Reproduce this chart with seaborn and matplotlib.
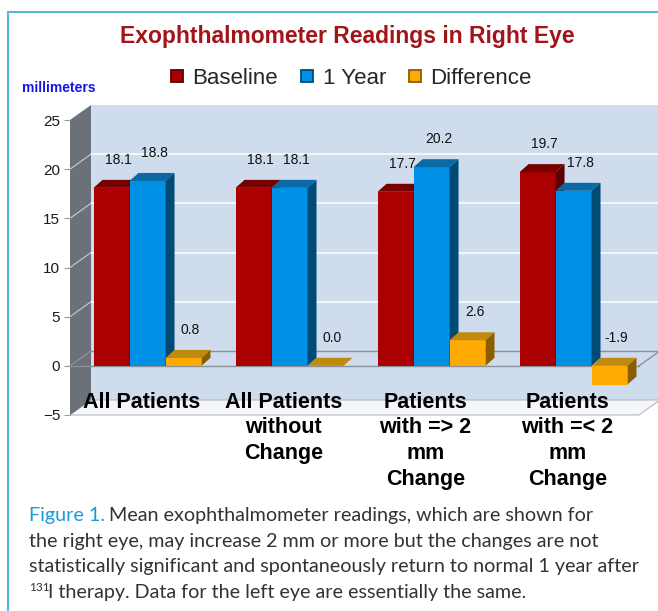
import numpy as np
import pandas as pd
import matplotlib
matplotlib.use("Agg")
import matplotlib.pyplot as plt
from matplotlib.patches import Polygon
from matplotlib.lines import Line2D
from matplotlib.colors import to_hex
import seaborn as sns

sns.set_style("white")
plt.rcParams["font.family"] = ["Liberation Sans", "DejaVu Sans"]

categories = ["All Patients", "All Patients\nwithout\nChange",
              "Patients\nwith => 2\nmm\nChange", "Patients\nwith =< 2\nmm\nChange"]
series = ["Baseline", "1 Year", "Difference"]
baseline = [18.1, 18.1, 17.7, 19.7]
one_year = [18.8, 18.1, 20.2, 17.8]
difference = [0.8, 0.0, 2.6, -1.9]
yticks = [-5, 0, 5, 10, 15, 20, 25]

front_col = {"Baseline": "#aa0000", "1 Year": "#0091e6", "Difference": "#ffaa00"}
top_col = {"Baseline": "#760000", "1 Year": "#0a6aa6", "Difference": "#c08a10"}
side_col = {"Baseline": "#5e0000", "1 Year": "#004a76", "Difference": "#8a5e00"}

rows = []
for s, vals in zip(series, [baseline, one_year, difference]):
    for c, v in zip(categories, vals):
        rows.append({"group": c, "series": s, "value": v})
df = pd.DataFrame(rows)

fig = plt.figure(figsize=(6.58, 6.11), dpi=100)
ax = fig.add_axes([70 / 658, 1 - 415 / 611, 569 / 658, 295 / 611])

sns.barplot(data=df, x="group", y="value", hue="series", hue_order=series,
            order=categories, palette=front_col, saturation=1, width=0.76,
            gap=0, legend=False, ax=ax)
bars = list(ax.patches)

xmin, xmax = -0.546, 3.461
ax.set_xlim(xmin, xmax)
ax.set_ylim(-5, 25)
ax.set_yticks(yticks)
ax.set_xticks([])
ax.set_xlabel("")
ax.set_ylabel("")
ax.set_facecolor("none")
for sp in ax.spines.values():
    sp.set_visible(False)
ax.tick_params(axis="y", length=4, color="#9a9a9a", labelsize=11,
               labelcolor="#1a1a1a", pad=3, left=True)

# pseudo 3d helpers (pixel offsets)
WX, WY = 21, 15   # wall depth
DX, DY = 9, 8     # bar depth


def shift(x, y, dx, dy):
    px = ax.transData.transform((x, y)) + np.array([dx, dy])
    return tuple(ax.transData.inverted().transform(px))


def back(x, y):
    return shift(x, y, WX, WY)


def poly(pts, fc, ec="none", z=0.2, lw=0.8):
    ax.add_patch(Polygon(pts, closed=True, facecolor=fc, edgecolor=ec,
                         lw=lw, zorder=z, clip_on=False))


# walls
poly([back(xmin, -5), back(xmax, -5), back(xmax, 25), back(xmin, 25)], "#cedced", z=0.1)
poly([(xmin, -5), (xmax, -5), back(xmax, -5), back(xmin, -5)], "#f4f6f9",
     ec="#b5b9c0", z=0.2)
poly([(xmin, -5), (xmin, 25), back(xmin, 25), back(xmin, -5)], "#6b7079", z=0.3)

for y in yticks[2:-1]:
    a, b = back(xmin, y), back(xmax, y)
    ax.add_line(Line2D([a[0], b[0]], [a[1], b[1]], color="white", lw=1.1,
                       zorder=0.5, clip_on=False))
    ax.add_line(Line2D([xmin, a[0]], [y, a[1]], color="#c9cdd3", lw=0.8,
                       zorder=0.5, clip_on=False))

# zero plane outline
z0a, z0b = back(xmin, 0), back(xmax, 0)
for xs, ys in [([z0a[0], z0b[0]], [z0a[1], z0b[1]]),
               ([xmin, xmax], [0, 0]),
               ([xmin, z0a[0]], [0, z0a[1]]),
               ([xmax, z0b[0]], [0, z0b[1]])]:
    ax.add_line(Line2D(xs, ys, color="#8c9097", lw=1.0, zorder=0.6, clip_on=False))

# bars with top and side faces
inv = {to_hex(v): k for k, v in front_col.items()}
bars.sort(key=lambda p: p.get_x())
for i, p in enumerate(bars):
    s = inv[to_hex(p.get_facecolor())]
    x0, w = p.get_x(), p.get_width()
    y0, h = p.get_y(), p.get_height()
    ytop, ybot = max(y0, y0 + h), min(y0, y0 + h)
    z = 2 + i * 0.1
    p.set_zorder(z)
    p.set_edgecolor("none")
    poly([(x0, ytop), (x0 + w, ytop), shift(x0 + w, ytop, DX, DY),
          shift(x0, ytop, DX, DY)], top_col[s], z=z)
    poly([(x0 + w, ybot), (x0 + w, ytop), shift(x0 + w, ytop, DX, DY),
          shift(x0 + w, ybot, DX, DY)], side_col[s], z=z)
    ax.annotate(f"{y0 + h:.1f}", xy=(x0 + w / 2, max(ytop, 0)),
                xytext=(5, 20), textcoords="offset points", ha="center",
                va="center", fontsize=10, color="#111111", zorder=20)

for i, c in enumerate(categories):
    ax.annotate(c, xy=(i, 0), xytext=(-4.5, -18.5), textcoords="offset points",
                ha="center", va="top", multialignment="center", fontsize=15.5,
                fontweight="bold", color="#000000", linespacing=1.31,
                annotation_clip=False, zorder=20)

# titles and legend
fig.text(347 / 658, 1 - 37 / 611, "Exophthalmometer Readings in Right Eye",
         ha="center", va="center", fontsize=16.5, fontweight="bold", color="#a3141a")
fig.text(22 / 658, 1 - 88 / 611, "millimeters", ha="left", va="center",
         fontsize=10, fontweight="bold", color="#1414e6")
handles = [Line2D([], [], marker="s", linestyle="", markersize=8,
                  markerfacecolor=front_col[s], markeredgecolor=side_col[s],
                  markeredgewidth=1.3) for s in series]
fig.legend(handles, series, loc="center", bbox_to_anchor=(350 / 658, 1 - 78 / 611),
           ncol=3, frameon=False, fontsize=16, handletextpad=0.3,
           columnspacing=0.9, handlelength=0.8)

# frame
fig.add_artist(Line2D([8 / 658, 1], [1 - 12 / 611] * 2, color="#52b6e0", lw=1.5,
                      transform=fig.transFigure))
fig.add_artist(Line2D([8 / 658] * 2, [0, 1 - 12 / 611], color="#52b6e0", lw=1.5,
                      transform=fig.transFigure))

# caption
cap = dict(fontsize=14.2, color="#333333", family=["Lato", "DejaVu Sans"], va="baseline")
fig.text(29 / 658, 1 - 521 / 611, "Figure 1.", **{**cap, "color": "#1c9ad6"})
fig.text(109 / 658, 1 - 521 / 611, "Mean exophthalmometer readings, which are shown for", **cap)
fig.text(29 / 658, 1 - 547 / 611,
         "the right eye, may increase 2 mm or more but the changes are not", **cap)
fig.text(29 / 658, 1 - 572 / 611,
         "statistically significant and spontaneously return to normal 1 year after", **cap)
fig.text(29 / 658, 1 - 591 / 611, "131", **{**cap, "fontsize": 8.5})
fig.text(48 / 658, 1 - 598 / 611, "I therapy. Data for the left eye are essentially the same.", **cap)

fig.savefig("out.png", dpi=100)
